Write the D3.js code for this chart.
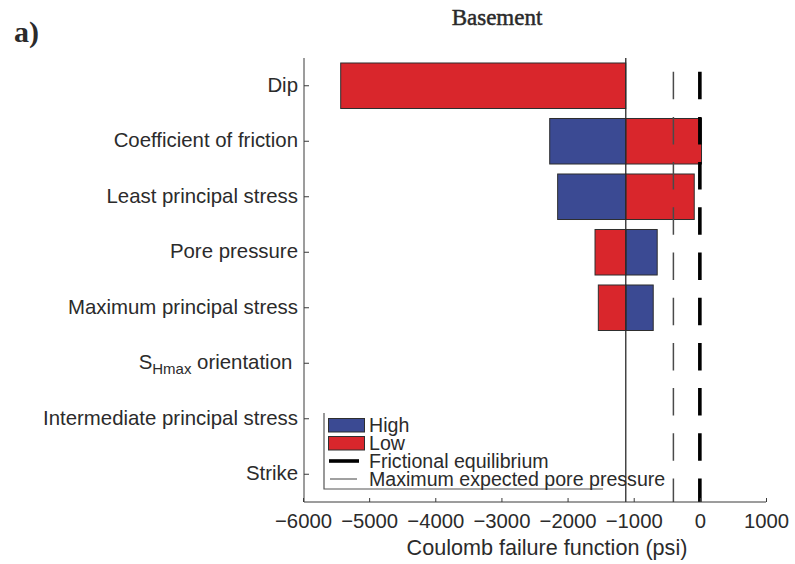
<!DOCTYPE html>
<html>
<head>
<meta charset="utf-8">
<script src="https://cdn.jsdelivr.net/npm/d3@7"></script>
<style>
  html, body { margin: 0; padding: 0; background: #fff; }
  svg { display: block; }
  text { font-family: "Liberation Sans", Arial, Helvetica, sans-serif; fill: #2b2b2b; }
</style>
</head>
<body>
<svg id="chart" width="795" height="564"></svg>
<script>
// Tornado sensitivity of the Coulomb failure function (psi), basement case
const categories = [
  "Dip",
  "Coefficient of friction",
  "Least principal stress",
  "Pore pressure",
  "Maximum principal stress",
  "SHmax orientation",
  "Intermediate principal stress",
  "Strike"
];
const baseValue = -1120;
const highValues = [-1120, -2270, -2150, -645, -705, -1120, -1120, -1120];
const lowValues  = [-5430,    25,   -85, -1585, -1535, -1120, -1120, -1120];
const frictionalEquilibrium = 0;
const maxExpectedPorePressure = -400;
const xTicks = [-6000, -5000, -4000, -3000, -2000, -1000, 0, 1000];

const colHigh = "#3b4a93";
const colLow = "#d9262c";
const colEdge = "#2e2e2e";

const svg = d3.select("#chart");
const plot = { left: 304, right: 766, top: 58, bottom: 502 };

const x = d3.scaleLinear().domain([-6000, 1000]).range([303, 766]);
const y = d3.scaleBand().domain(categories).range([plot.top, plot.bottom])
  .paddingInner(0.18).paddingOuter(0.09);

// bars: each input's high and low case, measured from the base case
const rows = categories.map((c, i) => ({ c, high: highValues[i], low: lowValues[i] }));
const bars = [];
rows.forEach(r => {
  if (r.high !== baseValue) bars.push({ c: r.c, v: r.high, fill: colHigh });
  if (r.low !== baseValue) bars.push({ c: r.c, v: r.low, fill: colLow });
});
svg.append("g").selectAll("rect").data(bars).join("rect")
  .attr("x", d => x(Math.min(d.v, baseValue)))
  .attr("y", d => y(d.c))
  .attr("width", d => Math.abs(x(d.v) - x(baseValue)))
  .attr("height", y.bandwidth())
  .attr("fill", d => d.fill)
  .attr("stroke", colEdge)
  .attr("stroke-width", 1);

// reference lines
const dash = "27.5,17.7";
svg.append("line")
  .attr("x1", x(baseValue)).attr("x2", x(baseValue))
  .attr("y1", plot.top).attr("y2", plot.bottom)
  .attr("stroke", "#2b2b2b").attr("stroke-width", 1.3);
svg.append("line")
  .attr("x1", x(maxExpectedPorePressure)).attr("x2", x(maxExpectedPorePressure))
  .attr("y1", plot.top).attr("y2", plot.bottom)
  .attr("stroke", "#4a4a4a").attr("stroke-width", 1.5)
  .attr("stroke-dasharray", dash).attr("stroke-dashoffset", 31.5);
svg.append("line")
  .attr("x1", x(frictionalEquilibrium)).attr("x2", x(frictionalEquilibrium))
  .attr("y1", plot.top).attr("y2", plot.bottom)
  .attr("stroke", "#000").attr("stroke-width", 3.6)
  .attr("stroke-dasharray", dash).attr("stroke-dashoffset", 31.5);

// axes
const xAxis = d3.axisBottom(x).tickValues(xTicks).tickSizeInner(-4).tickSizeOuter(0)
  .tickPadding(11.5).tickFormat(d3.format("d"));
const gx = svg.append("g").attr("transform", `translate(0,${plot.bottom})`).call(xAxis);
gx.select(".domain").attr("stroke", "#3a3a3a").attr("d", `M${plot.left},0H${plot.right}`);
gx.selectAll(".tick line").attr("stroke", "#3a3a3a");
gx.selectAll(".tick text").attr("font-size", 20.3).attr("fill", "#2b2b2b")
  .text(d => d3.format("d")(d).replace("-", "\u2212"));

const yAxis = d3.axisLeft(y).tickSizeInner(-5).tickSizeOuter(0).tickPadding(6);
const gy = svg.append("g").attr("transform", `translate(${plot.left},0)`).call(yAxis);
gy.select(".domain").attr("stroke", "#3a3a3a").attr("d", `M0,${plot.top}V${plot.bottom}`);
gy.selectAll(".tick line").attr("stroke", "#3a3a3a");
gy.selectAll(".tick text").attr("font-size", 20.4).attr("fill", "#2b2b2b").attr("dy", "0.3em")
  .each(function (d) {
    if (d === "SHmax orientation") {
      const t = d3.select(this).text("");
      t.append("tspan").text("S");
      t.append("tspan").attr("font-size", 15).attr("dy", "5").text("Hmax");
      t.append("tspan").attr("dy", "-5").text("\u00a0orientation\u00a0");
    }
  });

// x-axis title
svg.append("text")
  .attr("x", 547).attr("y", 555)
  .attr("text-anchor", "middle").attr("font-size", 21.6)
  .text("Coulomb failure function (psi)");

// panel title and label
svg.append("text")
  .attr("x", 497).attr("y", 25)
  .attr("text-anchor", "middle")
  .style("font-family", "'Liberation Serif', 'Times New Roman', serif")
  .attr("font-size", 23).attr("fill", "#2a2a2a")
  .attr("stroke", "#2a2a2a").attr("stroke-width", 0.5)
  .text("Basement");
svg.append("text")
  .attr("x", 14).attr("y", 42)
  .style("font-family", "'Liberation Serif', 'Times New Roman', serif")
  .attr("font-size", 30).attr("font-weight", "bold").attr("fill", "#1a1a1a")
  .text("a)");

// legend
const lg = svg.append("g");
lg.append("path").attr("d", "M324,413V489H603")
  .attr("fill", "none").attr("stroke", "#555").attr("stroke-width", 1.2);
const legendItems = [
  { label: "High", kind: "box", fill: colHigh },
  { label: "Low", kind: "box", fill: colLow },
  { label: "Frictional equilibrium", kind: "thick" },
  { label: "Maximum expected pore pressure", kind: "thin" }
];
const lgY0 = 425, lgStep = 18;
legendItems.forEach((it, i) => {
  const cy = lgY0 + i * lgStep;
  if (it.kind === "box") {
    lg.append("rect").attr("x", 328.5).attr("y", cy - 6.5).attr("width", 36).attr("height", 13.5)
      .attr("fill", it.fill).attr("stroke", colEdge).attr("stroke-width", 1);
  } else if (it.kind === "thick") {
    lg.append("line").attr("x1", 329).attr("x2", 359).attr("y1", cy).attr("y2", cy)
      .attr("stroke", "#000").attr("stroke-width", 3.6);
  } else {
    lg.append("line").attr("x1", 330).attr("x2", 357).attr("y1", cy).attr("y2", cy)
      .attr("stroke", "#777").attr("stroke-width", 1.4);
  }
  lg.append("text").attr("x", 369).attr("y", cy + 6.5)
    .attr("font-size", 19.6).text(it.label);
});
</script>
</body>
</html>
